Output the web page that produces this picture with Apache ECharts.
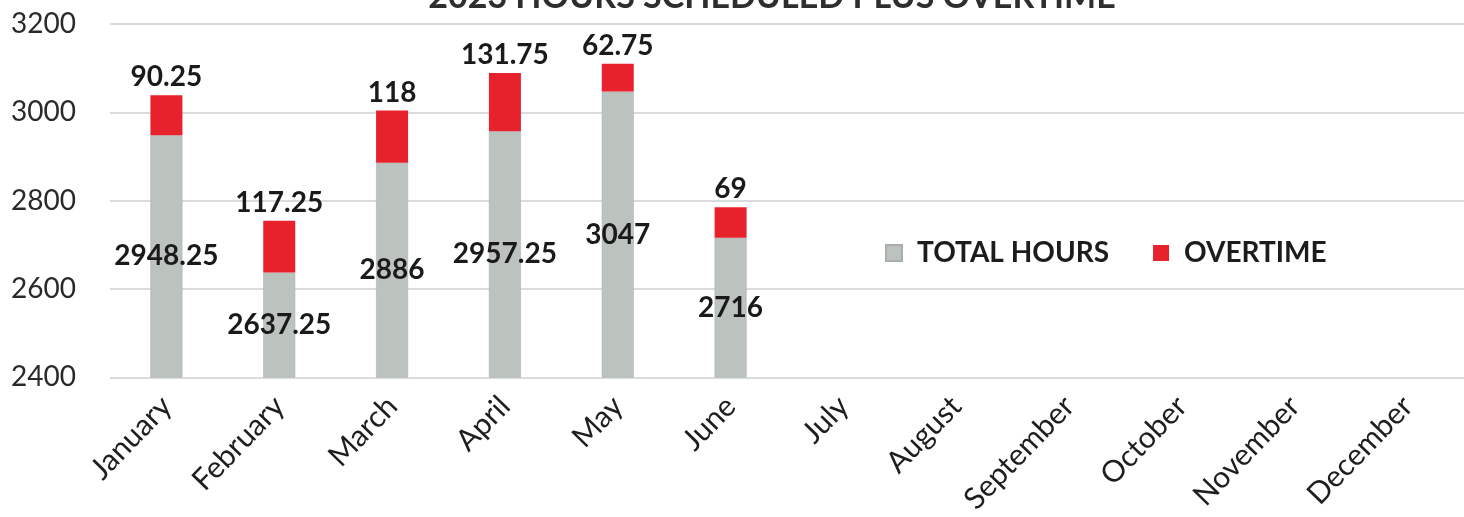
<!DOCTYPE html>
<html>
<head>
<meta charset="utf-8">
<script src="https://cdn.jsdelivr.net/npm/echarts@6/dist/echarts.min.js"></script>
<style>
  html, body { margin: 0; padding: 0; background: #ffffff; }
  #chart { width: 1464px; height: 517px; }
</style>
</head>
<body>
<div id="chart"></div>
<script>
// Monthly scheduled hours and overtime for 2023
const months = ['January', 'February', 'March', 'April', 'May', 'June',
  'July', 'August', 'September', 'October', 'November', 'December'];
const totalHours = [2948.25, 2637.25, 2886, 2957.25, 3047, 2716, null, null, null, null, null, null];
const overtime = [90.25, 117.25, 118, 131.75, 62.75, 69, null, null, null, null, null, null];
const yTicks = [2400, 2600, 2800, 3000, 3200];

const FONT = 'Lato, "Open Sans", sans-serif';
const GRAY = '#bcc2be';
const RED = '#e8222c';

const chart = echarts.init(document.getElementById('chart'), null, { renderer: 'canvas' });

chart.setOption({
  animation: false,
  backgroundColor: '#ffffff',
  textStyle: { fontFamily: FONT },
  title: {
    text: '2023 HOURS SCHEDULED PLUS OVERTIME',
    left: 767,
    textAlign: 'center',
    top: -25,
    textStyle: { fontFamily: FONT, fontSize: 34, fontWeight: 'bold', color: '#2e2e2e' }
  },
  legend: {
    left: 880,
    top: 234,
    itemWidth: 16,
    itemHeight: 16,
    itemGap: 44,
    icon: 'rect',
    textStyle: { fontFamily: FONT, fontSize: 28, fontWeight: 'bold', color: '#1c1c1c', padding: [0, 0, 0, 10] },
    data: ['TOTAL HOURS', 'OVERTIME']
  },
  grid: { left: 110, right: -4, top: 24, bottom: 139, containLabel: false },
  xAxis: {
    type: 'category',
    data: months,
    axisLine: { show: false },
    axisTick: { show: false },
    axisLabel: {
      interval: 0,
      rotate: 46,
      margin: 24,
      fontFamily: FONT,
      fontSize: 30,
      color: '#1e1e1e'
    }
  },
  yAxis: {
    type: 'value',
    min: yTicks[0],
    max: yTicks[yTicks.length - 1],
    interval: 200,
    axisLine: { show: false },
    axisTick: { show: false },
    axisLabel: {
      fontFamily: FONT, fontSize: 28, color: '#2a2a2a', margin: 34,
      formatter: function (v) { return String(v); }
    },
    splitLine: { lineStyle: { color: '#d9dcdc', width: 2 } }
  },
  series: [
    {
      name: 'TOTAL HOURS',
      type: 'bar',
      stack: 'hours',
      barWidth: 32,
      data: totalHours,
      itemStyle: { color: GRAY, borderColor: '#a9aeab', borderWidth: 0.5 },
      label: {
        show: true,
        position: 'inside',
        fontFamily: FONT,
        fontSize: 28,
        fontWeight: 'bold',
        color: '#1a1a1a'
      }
    },
    {
      name: 'OVERTIME',
      type: 'bar',
      stack: 'hours',
      barWidth: 32,
      data: overtime,
      itemStyle: { color: RED },
      label: {
        show: true,
        position: 'top',
        distance: 4,
        fontFamily: FONT,
        fontSize: 28,
        fontWeight: 'bold',
        color: '#1a1a1a'
      }
    }
  ]
});
</script>
</body>
</html>
